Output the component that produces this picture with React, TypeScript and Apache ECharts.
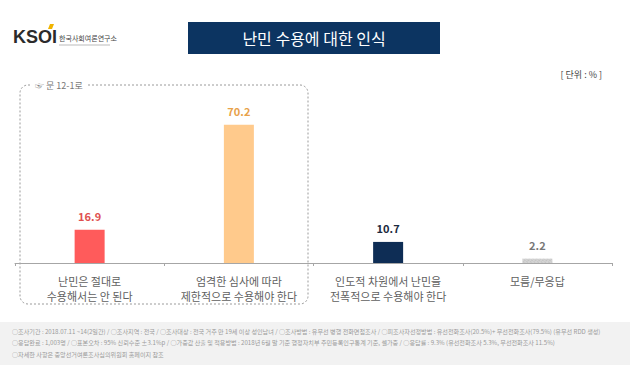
import React, { useEffect, useRef } from "react";
import * as echarts from "echarts";

const categories = [
  "난민은 절대로\n수용해서는 안 된다",
  "엄격한 심사에 따라\n제한적으로 수용해야 한다",
  "인도적 차원에서 난민을\n전폭적으로 수용해야 한다",
  "모름/무응답",
];
const values = [16.9, 70.2, 10.7, 2.2];
const barColors = ["#ff5b5b", "#ffca8c", "#0e2d55", "#d4d4d4"];
const labelColors = ["#e0504f", "#e8a24a", "#1c2a40", "#777777"];

const footLines = [
  "○조사기간 : 2018.07.11 ~14(2일간) / ○조사지역 : 전국 / ○조사대상 : 전국 거주 만 19세 이상 성인남녀 / ○조사방법 : 유무선 병행 전화면접조사 / ○피조사자선정방법 : 유선전화조사(20.5%)+ 무선전화조사(79.5%) (유무선 RDD 생성)",
  "○응답완료 : 1,003명 / ○표본오차 : 95% 신뢰수준 ±3.1%p / ○가중값 산출 및 적용방법 : 2018년 6월 말 기준 행정자치부 주민등록인구통계 기준, 셀가중 / ○응답률 : 9.3% (유선전화조사 5.3%, 무선전화조사 11.5%)",
  "○자세한 사항은 중앙선거여론조사심의위원회 홈페이지 참조",
];

const FONT = "'Noto Sans CJK KR', 'Noto Sans', sans-serif";

export default function App() {
  const ref = useRef<HTMLDivElement>(null);
  useEffect(() => {
    if (!ref.current) return;
    const chart = echarts.init(ref.current, undefined, { renderer: "svg" });
    chart.setOption({
      animation: false,
      textStyle: { fontFamily: FONT },
      grid: { left: 15, right: 18, top: 66, bottom: 102, containLabel: false },
      xAxis: {
        type: "category",
        data: categories,
        axisLine: { lineStyle: { color: "#a6a6a6", width: 1 } },
        axisTick: { show: true, length: 3, lineStyle: { color: "#a6a6a6" } },
        axisLabel: {
          color: "#5f5f5f",
          fontSize: 11,
          lineHeight: 15,
          margin: 10,
          interval: 0,
          fontFamily: FONT,
        },
      },
      yAxis: {
        type: "value",
        min: 0,
        max: 100,
        show: false,
        splitLine: { show: false },
      },
      series: [
        {
          type: "bar",
          barWidth: 30,
          data: values.map((v, i) => ({
            value: v,
            itemStyle: {
              color: barColors[i],
              ...(i === 3
                ? {
                    decal: {
                      symbol: "rect",
                      color: "rgba(140,140,140,0.7)",
                      symbolSize: 0.7,
                      dashArrayX: [2, 1],
                      dashArrayY: [1, 1],
                      rotation: 0.6,
                    },
                  }
                : {}),
            },
            label: { color: labelColors[i] },
          })),
          label: {
            show: true,
            position: "top",
            distance: 8,
            fontSize: 11,
            fontWeight: "bold",
            fontFamily: FONT,
            formatter: (p: any) => p.value.toFixed(1),
          },
        },
      ],
      graphic: [
        {
          type: "text",
          left: 13,
          top: 28,
          style: {
            text: "KSOI",
            fontSize: 18,
            fontWeight: "bold",
            fill: "#2b2b2b",
            fontFamily: "'Liberation Sans', Arial, sans-serif",
          },
        },
        {
          type: "polygon",
          shape: { points: [[50, 24], [54, 24], [52, 29], [48, 29]] },
          style: { fill: "#f0b400" },
        },
        {
          type: "text",
          left: 59,
          top: 34,
          style: { text: "한국사회여론연구소", fontSize: 7, fill: "#444", fontFamily: FONT },
        },
        {
          type: "line",
          shape: { x1: 59, y1: 45, x2: 110, y2: 45 },
          style: { stroke: "#bbb", lineWidth: 1 },
        },
        {
          type: "rect",
          shape: { x: 188, y: 22, width: 252, height: 32 },
          style: { fill: "#0c3461" },
        },
        {
          type: "text",
          x: 314,
          y: 38,
          style: {
            text: "난민 수용에 대한 인식",
            fontSize: 16,
            fill: "#ffffff",
            align: "center",
            verticalAlign: "middle",
            fontFamily: FONT,
          },
        },
        {
          type: "text",
          x: 602,
          y: 74,
          style: {
            text: "[ 단위 : % ]",
            fontSize: 9,
            fill: "#444",
            align: "right",
            verticalAlign: "middle",
            fontFamily: FONT,
          },
        },
        {
          type: "rect",
          shape: { x: 20, y: 85, width: 288, height: 219, r: 8 },
          style: { fill: "none", stroke: "#9a9a9a", lineWidth: 1, lineDash: [2, 2] },
          z: -1,
        },
        {
          type: "rect",
          shape: { x: 31, y: 78, width: 56, height: 14 },
          style: { fill: "#ffffff" },
        },
        {
          type: "text",
          x: 35,
          y: 85,
          style: {
            text: "☞ 문 12-1로",
            fontSize: 9,
            fill: "#777",
            verticalAlign: "middle",
            fontFamily: FONT,
          },
        },
        {
          type: "rect",
          shape: { x: 0, y: 322, width: 630, height: 43 },
          style: { fill: "#f2f2f2" },
          z: -2,
        },
        ...footLines.map((t, i) => ({
          type: "text",
          x: 12,
          y: 331 + i * 11.5,
          style: {
            text: t,
            fontSize: 6.1,
            fill: "#9a9a9a",
            verticalAlign: "middle",
            fontFamily: FONT,
          },
        })),
      ],
    });
    return () => chart.dispose();
  }, []);
  return <div ref={ref} style={{ width: 630, height: 365, position: "absolute", left: 0, top: 0 }} />;
}
